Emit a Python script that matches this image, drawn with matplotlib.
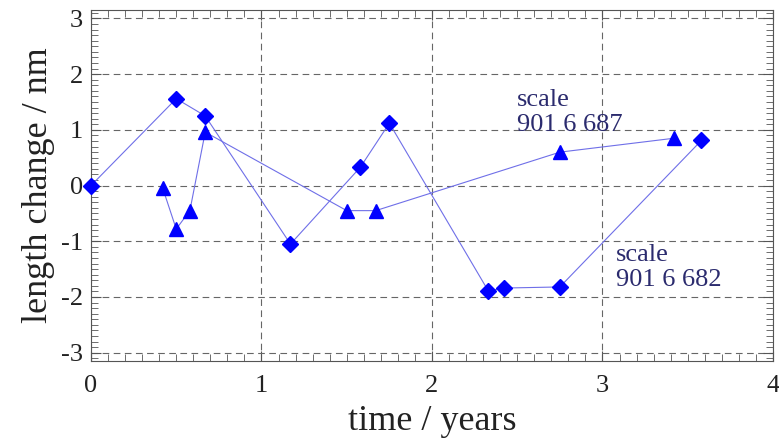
import matplotlib.pyplot as plt
from matplotlib.ticker import MultipleLocator

# scale 901 6 682 (diamonds)
t_682 = [0.0, 0.5, 0.67, 1.17, 1.58, 1.75, 2.33, 2.42, 2.75, 3.58]
dl_682 = [0.0, 1.56, 1.25, -1.05, 0.33, 1.12, -1.89, -1.84, -1.82, 0.81]

# scale 901 6 687 (triangles)
t_687 = [0.42, 0.5, 0.58, 0.67, 1.5, 1.67, 2.75, 3.42]
dl_687 = [-0.04, -0.78, -0.45, 0.96, -0.45, -0.45, 0.6, 0.85]

plt.rcParams['font.family'] = ['Liberation Serif', 'DejaVu Serif']
plt.rcParams['axes.unicode_minus'] = False

fig = plt.figure(figsize=(7.79, 4.4), dpi=100)
ax = fig.add_axes([0.1168, 0.1795, 0.8755, 0.7975])

line_col = '#6f6fe8'
mark_col = '#0000ff'
ax.plot(t_682, dl_682, color=line_col, lw=0.8, zorder=3)
ax.plot(t_682, dl_682, 'D', color=mark_col, ms=8, zorder=4, clip_on=False)
ax.plot(t_687, dl_687, color=line_col, lw=0.8, zorder=3)
ax.plot(t_687, dl_687, '^', color=mark_col, ms=10.5, zorder=4, clip_on=False)

ax.set_xlim(0, 4)
ax.set_ylim(-3.15, 3.15)
ax.xaxis.set_major_locator(MultipleLocator(1))
ax.xaxis.set_minor_locator(MultipleLocator(0.1))
ax.yaxis.set_major_locator(MultipleLocator(1))
ax.yaxis.set_minor_locator(MultipleLocator(0.1))
ax.tick_params(which='both', direction='in', top=True, right=True,
               color='#555555', labelsize=19, labelcolor='#222222')
ax.tick_params(which='major', length=7, width=0.8)
ax.tick_params(which='minor', length=5, width=0.6)
ax.tick_params(axis='x', pad=10)
ax.tick_params(axis='y', pad=6)
for s in ax.spines.values():
    s.set_color('#555555')
    s.set_linewidth(0.8)

ax.grid(True, which='major', color='#666666', ls=(0, (6, 4)), lw=0.8)

ax.set_xlabel('time / years', fontsize=26, color='#222222', labelpad=6)
ax.set_ylabel('length change / nm', fontsize=26, color='#222222', labelpad=4)

txt_col = '#2b2b6e'
ax.text(2.5, 1.73, 'scale\n901 6 687', fontsize=19, color=txt_col,
        va='top', ha='left', linespacing=1.15)
ax.text(3.08, -1.05, 'scale\n901 6 682', fontsize=19, color=txt_col,
        va='top', ha='left', linespacing=1.15)

fig.savefig('out.png', dpi=100)
